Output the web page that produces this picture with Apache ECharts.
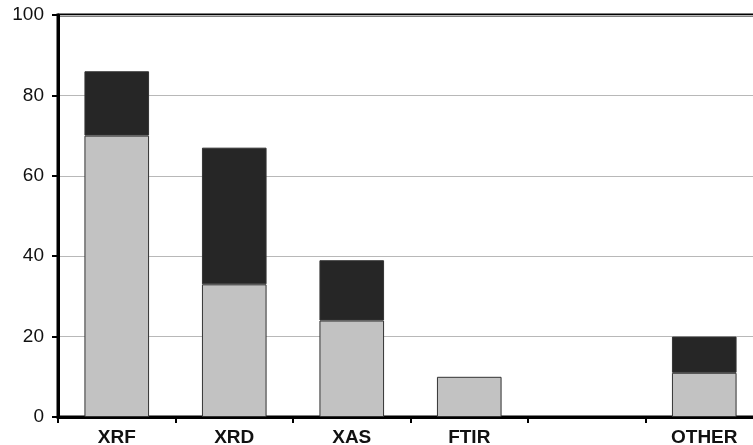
<!DOCTYPE html>
<html>
<head>
<meta charset="utf-8">
<script src="https://cdn.jsdelivr.net/npm/echarts@6/dist/echarts.min.js"></script>
<style>html,body{margin:0;padding:0;background:#fff;}#c{width:753px;height:445px;}</style>
</head>
<body>
<div id="c"></div>
<script>
const categories = ['XRF', 'XRD', 'XAS', 'FTIR', '', 'OTHER'];
const lowerValues = [70, 33, 24, 10, null, 11];
const upperValues = [16, 34, 15, null, null, 9];
const yTicks = [0, 20, 40, 60, 80, 100];

const chart = echarts.init(document.getElementById('c'));
chart.setOption({
  animation: false,
  backgroundColor: '#fff',
  grid: { left: 58, top: 15, width: 705, bottom: 28, outerBoundsMode: 'none', containLabel: false, show: true, borderColor: '#000', borderWidth: 3, backgroundColor: 'transparent' },
  xAxis: {
    type: 'category',
    data: categories,
    boundaryGap: true,
    axisLine: { lineStyle: { color: '#000', width: 3 } },
    axisTick: { show: true, length: 6, lineStyle: { color: '#000', width: 2 } },
    axisLabel: { color: '#111', fontSize: 19, fontWeight: 'bold', fontFamily: 'Liberation Sans, Arial, sans-serif', margin: 11 }
  },
  yAxis: {
    type: 'value',
    min: yTicks[0],
    max: yTicks[yTicks.length - 1],
    interval: 20,
    axisLine: { show: true, lineStyle: { color: '#000', width: 3 } },
    axisTick: { show: true, length: 6, lineStyle: { color: '#000', width: 2 } },
    axisLabel: { color: '#111', fontSize: 19, fontFamily: 'Liberation Sans, Arial, sans-serif', margin: 14 },
    splitLine: { show: true, lineStyle: { color: '#b8b8b8', width: 1 } }
  },
  series: [
    {
      type: 'bar', stack: 'a', data: lowerValues, barWidth: '55%',
      itemStyle: { color: '#c2c2c2', borderColor: '#333', borderWidth: 1 }
    },
    {
      type: 'bar', stack: 'a', data: upperValues, barWidth: '55%',
      itemStyle: { color: '#262626', borderColor: '#333', borderWidth: 1 }
    }
  ]
});
</script>
</body>
</html>
